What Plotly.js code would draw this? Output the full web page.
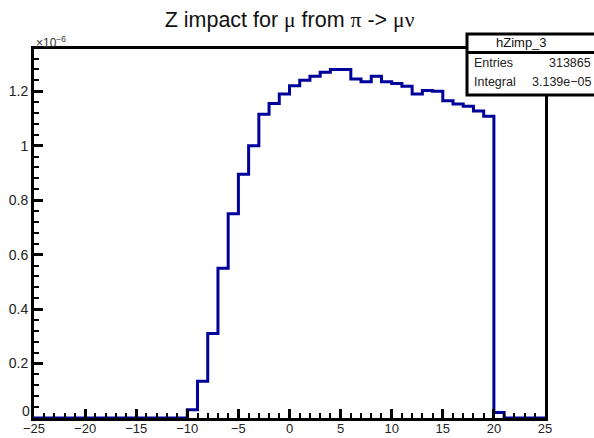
<!DOCTYPE html>
<html>
<head>
<meta charset="utf-8">
<script src="https://cdn.plot.ly/plotly-3.0.1.min.js"></script>
<style>html,body{margin:0;padding:0;background:#fff;}#chart{width:594px;height:438px;}</style>
</head>
<body>
<div id="chart"></div>
<script>
// Histogram hZimp_3: bin edges (lower edges, then closing edge) and contents in units of 1e-6
const binEdges = [-25, -10, -9, -8, -7, -6, -5, -4, -3, -2, -1, 0, 1, 2, 3, 4, 5, 6, 7, 8, 9, 10, 11, 12, 13, 14, 15, 16, 17, 18, 19, 20, 21, 25];
const binValues = [0, 0.03, 0.135, 0.31, 0.55, 0.75, 0.895, 1.0, 1.115, 1.155, 1.19, 1.22, 1.24, 1.255, 1.27, 1.28, 1.28, 1.245, 1.235, 1.255, 1.235, 1.228, 1.218, 1.19, 1.203, 1.2, 1.165, 1.153, 1.145, 1.127, 1.108, 0.02, 0, 0];
const xTicks = [-25, -20, -15, -10, -5, 0, 5, 10, 15, 20, 25];
const yTicks = [0, 0.2, 0.4, 0.6, 0.8, 1, 1.2];
// the "0" label is drawn as an annotation, raised above the x labels as in the original
const yTickText = ['', '0.2', '0.4', '0.6', '0.8', '1', '1.2'];
const yZeroLabel = '0';
const statsName = 'hZimp_3';
const statsEntries = '313865';
const statsIntegral = '3.139e\u221205';

const greek = s => '<span style="font-family:\'Liberation Serif\',serif">' + s + '</span>';
const titleText = 'Z impact for ' + greek('\u03bc') + ' from ' + greek('\u03c0') + ' -> ' + greek('\u03bc\u03bd');

const trace = {
  type: 'scatter', mode: 'lines',
  x: binEdges, y: binValues,
  line: {shape: 'hv', color: '#00009a', width: 3},
  hoverinfo: 'skip', cliponaxis: true
};

const FONT = 'Liberation Sans, Arial, sans-serif';
const xFont = {family: FONT, size: 13, color: '#222'};
const yFont = {family: FONT, size: 14, color: '#222'};

// box pixel coords converted to paper
const L = 34, R = 545, T = 49, B = 418;
const px = v => (v - L) / (R - L);
const py = v => (B - v) / (B - T);

const layout = {
  width: 594, height: 438,
  margin: {l: L, r: 594 - R, t: T, b: 438 - B, pad: 0},
  paper_bgcolor: '#fff', plot_bgcolor: '#fff',
  showlegend: false,
  title: {
    text: titleText, x: 0.5, xref: 'paper', xanchor: 'center',
    y: 1 - 19 / 438, yref: 'container', yanchor: 'middle',
    font: {family: FONT, size: 21.5, color: '#111'}
  },
  xaxis: {
    range: [-25, 25], tickvals: xTicks, ticks: 'inside', ticklen: 9, tickwidth: 3, tickcolor: '#000',
    minor: {dtick: 1, ticks: 'inside', ticklen: 5, tickwidth: 2, tickcolor: '#000', showgrid: false},
    showline: true, linewidth: 3, linecolor: '#000', mirror: true, ticklabelstandoff: -4,
    showgrid: false, zeroline: false, tickfont: xFont, fixedrange: true
  },
  yaxis: {
    range: [0, 1.355], tickvals: yTicks, ticktext: yTickText, ticks: 'inside', ticklen: 9, tickwidth: 3, tickcolor: '#000',
    minor: {dtick: 0.04, ticks: 'inside', ticklen: 5, tickwidth: 2, tickcolor: '#000', showgrid: false},
    showline: true, linewidth: 3, linecolor: '#000', mirror: true,
    showgrid: false, zeroline: false, tickfont: yFont, fixedrange: true
  },
  shapes: [
    {type: 'rect', xref: 'paper', yref: 'paper', x0: px(467), x1: px(600), y0: py(95), y1: py(34),
     fillcolor: '#fff', line: {color: '#000', width: 3}, layer: 'above'},
    {type: 'line', xref: 'paper', yref: 'paper', x0: px(467), x1: px(600), y0: py(52.5), y1: py(52.5),
     line: {color: '#000', width: 3}, layer: 'above'}
  ],
  annotations: [
    {text: yZeroLabel, xref: 'paper', yref: 'paper', x: px(32), xanchor: 'right', y: py(411), yanchor: 'middle',
     showarrow: false, font: yFont},
    {text: '\u00d710<sup>\u22126</sup>', xref: 'paper', yref: 'paper', x: 0, xanchor: 'left', y: py(42), yanchor: 'middle',
     showarrow: false, font: {family: FONT, size: 12, color: '#333'}},
    {text: statsName, xref: 'paper', yref: 'paper', x: px(521), xanchor: 'center', y: py(43), yanchor: 'middle',
     showarrow: false, font: {family: FONT, size: 13, color: '#111'}},
    {text: 'Entries', xref: 'paper', yref: 'paper', x: px(472), xanchor: 'left', y: py(63), yanchor: 'middle',
     showarrow: false, font: {family: FONT, size: 12.5, color: '#222'}},
    {text: statsEntries, xref: 'paper', yref: 'paper', x: px(593), xanchor: 'right', y: py(63), yanchor: 'middle',
     showarrow: false, font: {family: FONT, size: 12.5, color: '#222'}},
    {text: 'Integral', xref: 'paper', yref: 'paper', x: px(472), xanchor: 'left', y: py(82), yanchor: 'middle',
     showarrow: false, font: {family: FONT, size: 12.5, color: '#222'}},
    {text: statsIntegral, xref: 'paper', yref: 'paper', x: px(593), xanchor: 'right', y: py(82), yanchor: 'middle',
     showarrow: false, font: {family: FONT, size: 12.5, color: '#222'}}
  ]
};

Plotly.newPlot('chart', [trace], layout, {displayModeBar: false, staticPlot: true});
</script>
</body>
</html>
